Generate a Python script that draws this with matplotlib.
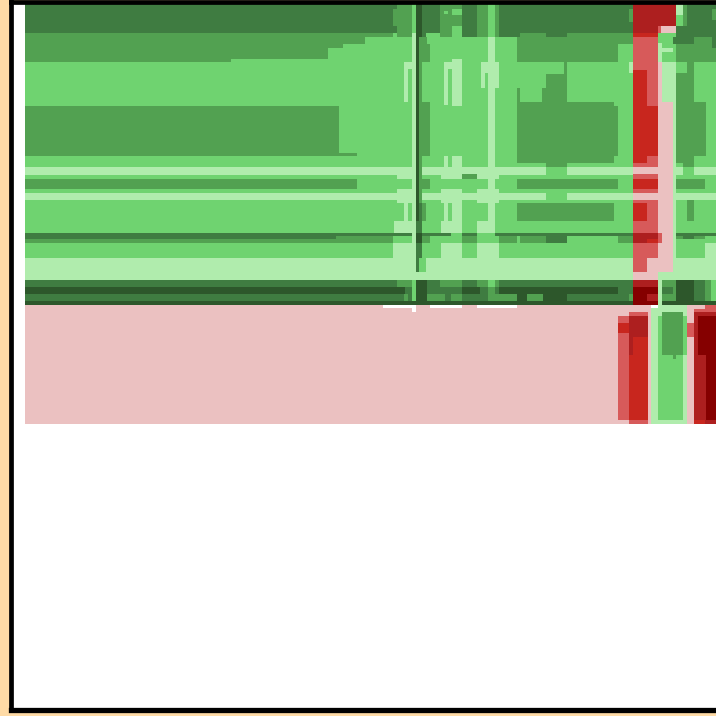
import numpy as np
import matplotlib
matplotlib.use("Agg")
import matplotlib.pyplot as plt
from matplotlib.colors import ListedColormap

palette = ['#FFFFFF', '#B0ECAD', '#6FD370', '#52A151', '#3F7C41', '#2D572B',
           '#EBC1C1', '#D75A5A', '#C8261E', '#AD1F1F', '#850000']
W, a, b, c, d, e, p, q, r, s, t = range(11)

# blocks: x from, x to, y from, y to, level (later blocks overwrite earlier ones)
base_bands = [
    (25,716,3,33,d),(25,716,33,305,b),(25,716,305,424,p),
    (25,393,33,37,c),(25,365,37,44,c),(25,343,44,48,c),(25,328,48,59,c),(25,231,59,62,c),
    (25,339,106,153,c),(25,357,153,156,c),(25,357,179,189,c),
    (517,618,37,62,c),(517,633,37,44,c),(499,520,33,37,d),(520,546,33,37,c),(546,567,33,37,d),(567,633,33,37,c),
    (564,567,62,74,c),(546,567,74,88,c),(517,520,88,102,c),(542,567,88,102,c),
    (517,614,102,106,c),(517,618,106,156,c),(517,614,156,163,c),(546,567,163,167,c),
    (517,618,179,189,c),(517,614,203,221,c),
]
light_bands = [
    (25,546,167,175,a),(567,633,167,175,a),(25,546,193,200,a),(567,633,193,200,a),
    (397,412,167,179,a),(441,462,167,179,a),(477,499,167,179,a),(462,477,174,179,c),
    (397,422,189,203,a),(441,462,189,203,a),(477,499,189,203,a),
    (25,716,258,280,a),
]
vertical_strips = [
    (412,416,37,258,a),(404,412,62,69,a),(404,408,69,102,a),(404,408,203,221,a),
    (444,448,62,105,a),(448,452,62,69,a),(452,462,59,106,a),(444,448,156,167,a),(452,462,156,167,a),
    (444,448,203,221,a),(452,462,203,221,a),
    (481,499,62,73,a),(481,485,73,88,a),(495,499,73,88,a),(488,495,37,233,a),
    (419,422,37,233,c),(422,427,37,62,c),(427,430,44,62,c),(422,430,102,156,c),(422,430,179,189,c),(422,426,203,221,c),
    (416,419,37,233,e),(419,422,203,233,d),(416,422,221,233,d),
    (394,416,221,233,a),(441,462,221,233,a),(477,495,221,233,a),
    (393,416,243,258,a),(441,462,243,258,a),(477,499,243,258,a),(416,422,243,272,d),(419,422,258,272,b),(422,426,258,272,b),
]
dark_bands = [
    (25,393,233,236,d),(25,336,236,239,d),(336,393,236,239,c),(25,393,239,243,c),
    (393,412,233,236,d),(422,451,233,236,d),(462,477,233,236,d),(495,633,233,236,d),
    (422,430,236,243,c),(462,477,236,243,c),(499,517,236,243,c),
    (520,546,236,243,c),(546,567,236,243,d),(618,633,236,243,c),(416,422,233,243,e),
    (25,716,280,287,d),(397,412,280,287,c),(440,462,280,287,c),(477,488,280,287,c),(488,495,280,287,b),(495,499,280,287,c),
    (25,383,287,294,e),(383,405,287,294,e),(405,412,287,294,d),(412,416,287,294,c),(422,462,287,294,d),(462,480,287,294,e),(480,499,287,294,d),(488,495,287,294,c),(499,517,287,294,e),(517,618,287,294,e),(618,633,287,294,d),
    (25,716,294,301,d),(404,408,294,301,c),(412,416,280,301,b),(427,445,294,301,c),(451,462,294,301,c),(488,517,294,301,c),
    (517,527,294,301,e),(527,543,294,301,c),(543,567,294,301,e),(629,633,294,301,c),
    (416,427,280,305,e),(416,422,280,305,e),
    (25,716,301,305,e),(416,422,301,305,e),
]
top_details = [
    (393,397,9,26,c),(397,412,3,37,c),(412,416,3,33,b),(412,416,33,37,a),(416,422,3,37,e),
    (440,462,3,37,c),(452,462,9,15,b),(444,448,11,14,b),(452,462,26,37,b),
    (462,477,3,37,d),(477,488,3,37,c),(488,495,3,37,b),(495,499,3,37,c),(629,633,9,22,c),(629,633,62,73,a),
    (422,426,33,37,d),
]
red_column = [
    (633,676,3,26,s),(633,658,26,33,s),(658,661,26,33,q),(661,676,26,33,p),(633,658,33,37,r),
    (633,658,37,70,q),(633,647,70,106,r),(647,658,70,106,q),(633,658,106,156,r),
    (633,647,156,163,r),(647,658,156,167,q),(633,647,163,167,q),(633,658,167,174,p),(633,658,174,179,q),
    (633,658,179,189,r),(633,658,189,193,q),(633,658,193,200,p),(633,658,200,203,q),(633,647,203,221,r),(647,658,203,221,q),
    (633,658,221,233,q),(633,658,233,243,s),(647,658,239,243,r),(658,662,233,243,q),(633,658,243,258,q),
    (633,647,258,272,q),(647,673,258,272,p),(633,658,272,280,p),
    (633,658,280,287,s),(633,658,287,305,t),(647,658,294,301,s),
    (658,673,102,233,p),(662,673,233,258,p),(658,662,243,258,p),(658,662,62,102,p),(662,676,62,102,a),
    (658,662,43,62,a),(662,673,48,52,a),(673,676,102,258,a),
]
right_side = [
    (676,683,3,15,a),(676,683,15,26,b),(683,687,3,26,c),(712,716,9,20,c),(676,716,26,37,d),
    (673,694,37,44,d),(694,712,37,44,c),(712,716,37,48,d),(676,712,44,62,c),(712,716,48,62,c),
    (676,687,62,73,b),(687,694,62,73,c),(676,694,73,102,c),(676,706,102,156,c),
    (676,694,156,163,c),(683,694,163,167,c),
    (676,683,167,175,a),(694,716,167,175,a),(673,716,193,200,a),
    (676,705,179,189,c),(687,694,200,221,c),
    (676,716,233,236,d),(676,683,236,239,c),(683,694,236,239,d),(694,705,236,239,c),(676,705,239,243,b),(705,716,243,258,a),
    (658,716,272,280,a),(658,662,280,305,a),(662,673,280,301,c),(662,673,287,294,d),(673,676,280,305,c),
    (676,694,280,305,e),(694,705,280,301,d),(705,711,280,301,c),(711,716,280,301,b),(658,716,301,305,e),(658,662,301,305,a),
]
lower_block = [
    (618,629,316,420,q),(618,629,323,333,r),(629,648,312,316,q),(629,648,316,337,s),(629,648,337,420,r),(629,633,337,355,s),(629,648,420,424,q),
    (651,687,305,424,a),(658,683,316,420,b),(662,683,312,355,c),(658,662,316,355,b),(683,687,316,355,b),(673,676,355,359,c),
    (687,694,323,337,q),(694,716,309,312,q),(705,716,305,309,q),(694,716,312,316,s),(694,716,316,424,t),(694,698,316,355,s),(694,706,355,420,s),
    (694,705,420,424,r),(705,716,420,424,s),
]
white_gaps = [(383,412,305,308,W),(412,416,305,312,W),(430,462,305,308,W),(477,517,305,308,W),(651,658,305,308,W)]

layers = [base_bands, light_bands, vertical_strips, dark_bands, top_details, red_column, right_side, lower_block, white_gaps]

grid = np.zeros((716, 716), dtype=int)
for layer in layers:
    for x0, x1, y0, y1, level in layer:
        grid[y0:y1, x0:x1] = level

fig = plt.figure(figsize=(7.16, 7.16), dpi=100, facecolor='#FFDBA6')
ax = fig.add_axes([11/716, (716-709.5)/716, 710/716, 708/716])
ax.imshow(grid, cmap=ListedColormap(palette), vmin=0, vmax=10, extent=(0, 716, 717, 1),
          interpolation='nearest', aspect='auto')
ax.set_xlim(11, 721)
ax.set_ylim(709.5, 1.5)
ax.set_xticks([]); ax.set_yticks([])
for sp in ax.spines.values():
    sp.set_linewidth(3.4)
    sp.set_color('black')
ax.spines['bottom'].set_linewidth(3.8)
fig.savefig('out.png', dpi=100, facecolor=fig.get_facecolor())
